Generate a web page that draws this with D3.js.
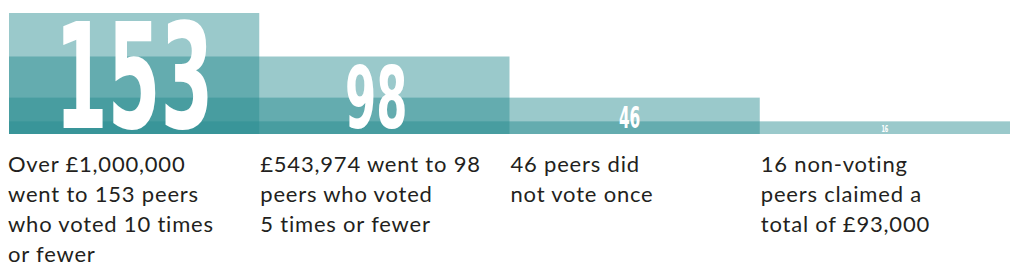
<!DOCTYPE html>
<html>
<head>
<meta charset="utf-8">
<script src="https://cdn.jsdelivr.net/npm/d3@7"></script>
<style>
  html, body { margin: 0; padding: 0; background: #ffffff; }
  svg { display: block; }
</style>
</head>
<body>
<svg id="chart" width="1017" height="273"></svg>
<script>
const categories = ["voted10", "voted5", "none", "nonvoting"];
const peers = [153, 98, 46, 16];
const captions = [
  ["Over £1,000,000", "went to 153 peers", "who voted 10 times", "or fewer"],
  ["£543,974 went to 98", "peers who voted", "5 times or fewer"],
  ["46 peers did", "not vote once"],
  ["16 non-voting", "peers claimed a", "total of £93,000"]
];

const svg = d3.select("#chart");

const x = d3.scaleBand().domain(categories).range([9, 1010]).paddingInner(0).paddingOuter(0);
const y = d3.scaleLinear().domain([0, 153]).range([134, 13]);

const base = "rgb(40,140,145)";
const alpha = 0.47;

// Layered translucent bars, all starting at the left edge
svg.append("g").selectAll("rect")
  .data(categories)
  .join("rect")
  .attr("x", x(categories[0]))
  .attr("y", (d, i) => y(peers[i]))
  .attr("width", d => x(d) + x.bandwidth() - x(categories[0]))
  .attr("height", (d, i) => y(0) - y(peers[i]))
  .attr("fill", base)
  .attr("fill-opacity", alpha);

// Big numbers inside each bar's own segment
const numG = svg.append("g");
categories.forEach((c, i) => {
  const h = y(0) - y(peers[i]);
  const cap = Math.max(h - 15, 0.55 * h);
  const fs = cap / 0.729;
  const label = String(peers[i]);
  const baseline = y(0) - (h - cap) / 2 + 1;
  const cx = x(c) + x.bandwidth() / 2 - (i === 1 ? 8 : i === 2 ? 5 : 0);
  const targetW = label.length * cap * 0.5;
  numG.append("text")
    .attr("x", cx - targetW / 2)
    .attr("y", baseline)
    .attr("font-family", "'DejaVu Sans Condensed', 'DejaVu Sans', sans-serif")
    .attr("font-weight", "bold")
    .attr("font-size", fs)
    .attr("fill", "#ffffff")
    .attr("textLength", targetW)
    .attr("lengthAdjust", "spacingAndGlyphs")
    .text(label);
});

// Captions below
const capG = svg.append("g");
categories.forEach((c, i) => {
  const t = capG.append("text")
    .attr("font-family", "Lato, 'Noto Sans', sans-serif")
    .attr("font-size", 22)
    .attr("letter-spacing", 0.8)
    .attr("fill", "#231f20");
  captions[i].forEach((line, j) => {
    t.append("tspan")
      .attr("x", x(c) - 1 + (i > 0 ? 2 : 0))
      .attr("y", 172 + j * 30)
      .text(line);
  });
});
</script>
</body>
</html>
